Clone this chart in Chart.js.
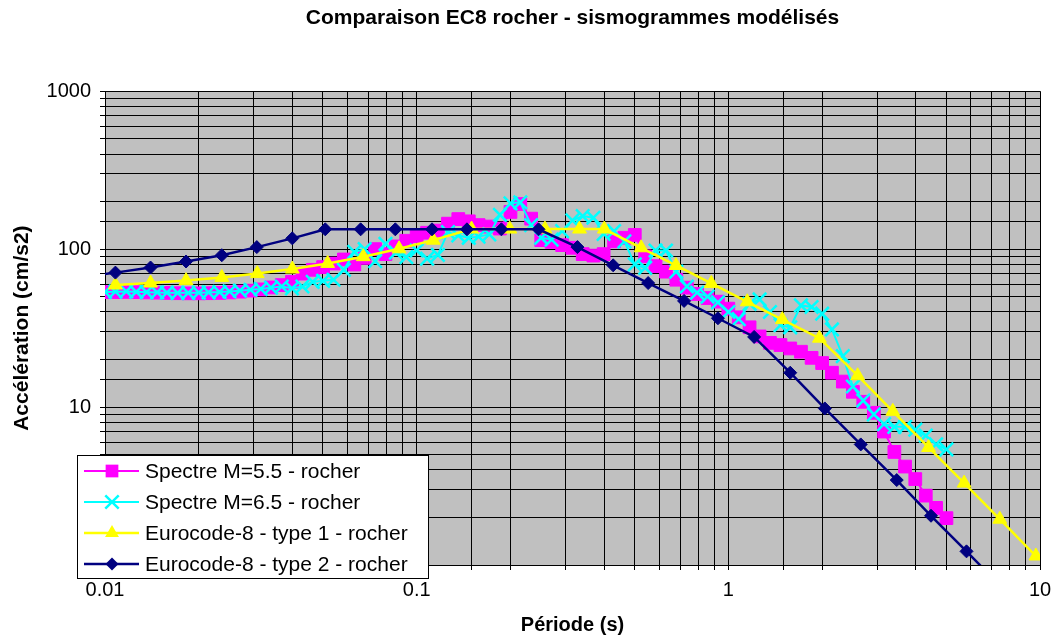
<!DOCTYPE html>
<html lang="fr">
<head>
<meta charset="utf-8">
<title>Comparaison EC8 rocher - sismogrammes modélisés</title>
<script src="https://cdn.jsdelivr.net/npm/chart.js@4.4.1/dist/chart.umd.min.js"></script>
<style>
  html, body { margin: 0; padding: 0; background: #fff; }
  canvas { display: block; }
</style>
</head>
<body>
<canvas id="graphique" width="1055" height="641"></canvas>
<script>
/* ---------- Données ---------- */
const titreGraphique = 'Comparaison EC8 rocher - sismogrammes modélisés';
const nomsSeries = [
  'Spectre M=5.5 - rocher',
  'Spectre M=6.5 - rocher',
  'Eurocode-8 - type 1 - rocher',
  'Eurocode-8 - type 2 - rocher'
];
const etiquettesX = ['0.01', '0.1', '1', '10'];
const etiquettesY = ['1', '10', '100', '1000'];

// périodes (s) des spectres modélisés
const periodesSpectres = [
  0.0100, 0.0108, 0.0117, 0.0126, 0.0136, 0.0147, 0.0158, 0.0171, 0.0185, 0.0200,
  0.0215, 0.0233, 0.0251, 0.0271, 0.0293, 0.0316, 0.0341, 0.0369, 0.0398, 0.0430,
  0.0464, 0.0501, 0.0541, 0.0584, 0.0631, 0.0681, 0.0736, 0.0794, 0.0858, 0.0926,
  0.100, 0.108, 0.117, 0.126, 0.136, 0.147, 0.158, 0.171, 0.185, 0.200,
  0.215, 0.233, 0.251, 0.271, 0.293, 0.316, 0.341, 0.369, 0.398, 0.430,
  0.464, 0.501, 0.541, 0.584, 0.631, 0.681, 0.736, 0.794, 0.858, 0.926,
  1.00, 1.08, 1.17, 1.26, 1.36, 1.47, 1.58, 1.71, 1.85, 2.00,
  2.15, 2.33, 2.51, 2.71, 2.93, 3.16, 3.41, 3.69, 3.98, 4.30,
  4.64, 5.01
];
const spectreM55 = [
  53.4, 53.5, 53.6, 53.4, 53.2, 53.0, 52.8, 52.6, 52.5, 52.5,
  52.6, 52.8, 53.2, 53.8, 54.6, 55.6, 57.2, 59.2, 62.1, 70,
  74, 77, 81, 86, 80, 88, 100, 93, 104, 113,
  121, 127, 131, 145, 155, 150, 142, 139, 135, 172,
  193, 156, 114, 111, 106, 102, 93, 91, 93, 112,
  118, 123, 90, 78, 72, 64, 57, 52, 49, 46.5,
  42, 37, 32, 28, 25.5, 24.7, 23.5, 22.4, 20.5, 19,
  16.5, 14.5, 12.5, 10.8, 9.2, 7, 5.2, 4.2, 3.5, 2.75,
  2.3, 1.98
];
const spectreM65 = [
  53.6, 53.8, 54, 53.7, 53.4, 53.2, 53, 52.9, 52.9, 53,
  53.2, 53.5, 54, 54.6, 55.3, 56, 57, 58, 56.5, 58,
  62, 63, 64, 74, 96, 100, 84, 108, 95, 89,
  98, 87, 92, 128, 122, 118, 120, 124, 165, 195,
  198, 142, 118, 115, 130, 152, 162, 158, 125, 130,
  112, 80, 76, 98, 98, 72, 58, 53, 50, 46,
  40, 36, 45, 48, 40, 33, 32, 44, 43, 39,
  31, 21, 13.5, 11, 9, 7.8, 7.5, 7.5, 7.2, 6.6,
  5.8, 5.4
];

// Eurocode 8 - type 1
const periodesEC8t1 = [
  0.0108, 0.0140, 0.0182, 0.0237, 0.0308, 0.0399, 0.0518, 0.0674, 0.0878, 0.113,
  0.150, 0.199, 0.258, 0.333, 0.400, 0.525, 0.679, 0.882, 1.15, 1.49,
  1.96, 2.60, 3.37, 4.39, 5.71, 7.43, 9.7
];
const ec8Type1 = [
  59.3, 61.0, 63.2, 66.2, 70.0, 74.8, 81.2, 89.6, 100.5, 114,
  134, 134, 134, 134, 134, 102, 78.8, 60.7, 46.4, 35.8,
  27.3, 15.8, 9.4, 5.55, 3.3, 1.95, 1.14
];

// Eurocode 8 - type 2
const periodesEC8t2 = [
  0.0083, 0.0108, 0.0140, 0.0182, 0.0237, 0.0307, 0.0399, 0.0509, 0.0661, 0.0854,
  0.112, 0.145, 0.187, 0.246, 0.328, 0.427, 0.553, 0.721, 0.926, 1.21,
  1.58, 2.04, 2.66, 3.47, 4.47, 5.81, 7.55
];
const ec8Type2 = [
  66.5, 71, 76.5, 83.5, 91.5, 103, 117, 133.5, 133.5, 133.5,
  133.5, 133.5, 133.5, 133.5, 103, 79, 61, 47, 36.5, 27.8,
  16.5, 9.8, 5.8, 3.45, 2.05, 1.22, 0.72
];

/* ---------- Styles ---------- */
const police = '"Liberation Sans", Arial, Helvetica, sans-serif';
const styles = [
  { couleur: '#FF00FF', marqueur: 'rect',     rayon: 9,   trait: 2 },
  { couleur: '#00FFFF', marqueur: 'crossRot', rayon: 9.5, trait: 2 },
  { couleur: '#FFFF00', marqueur: 'triangle', rayon: 8,   trait: 2.5 },
  { couleur: '#000080', marqueur: 'rectRot',  rayon: 6.5, trait: 2.5 }
];

function versPoints(periodes, valeurs) {
  return periodes.map((t, i) => ({ x: t, y: valeurs[i] }));
}

function etiquetteLog(valeur, etiquettes, decalage) {
  const e = Math.log10(valeur);
  const r = Math.round(e);
  if (Math.abs(e - r) < 1e-6) return etiquettes[r + decalage] || '';
  return '';
}

function jeu(index, points) {
  const s = styles[index];
  return {
    label: nomsSeries[index],
    data: points,
    borderColor: s.couleur,
    backgroundColor: s.couleur,
    borderWidth: s.trait,
    pointStyle: s.marqueur,
    pointRadius: s.rayon,
    pointBorderWidth: s.marqueur === 'crossRot' ? 2.5 : 1,
    pointBackgroundColor: s.couleur,
    pointBorderColor: s.couleur,
    tension: 0,
    fill: false,
    order: 4 - index
  };
}

/* ---------- Plugins ---------- */
const fondZone = {
  id: 'fondZone',
  beforeDraw(chart) {
    const { ctx, chartArea: a } = chart;
    ctx.save();
    ctx.fillStyle = '#C0C0C0';
    ctx.fillRect(a.left, a.top, a.right - a.left, a.bottom - a.top);
    ctx.restore();
  }
};

function dessinerMarqueur(ctx, style, x, y) {
  const r = style.rayon;
  ctx.save();
  ctx.fillStyle = style.couleur;
  ctx.strokeStyle = style.couleur;
  ctx.beginPath();
  if (style.marqueur === 'rect') {
    const c = r * Math.SQRT1_2;
    ctx.rect(x - c, y - c, 2 * c, 2 * c);
    ctx.fill();
  } else if (style.marqueur === 'crossRot') {
    const c = r * Math.SQRT1_2;
    ctx.lineWidth = 2.5;
    ctx.moveTo(x - c, y - c); ctx.lineTo(x + c, y + c);
    ctx.moveTo(x + c, y - c); ctx.lineTo(x - c, y + c);
    ctx.stroke();
  } else if (style.marqueur === 'triangle') {
    ctx.moveTo(x, y - r);
    ctx.lineTo(x + r * Math.sin(2 * Math.PI / 3), y + r / 2);
    ctx.lineTo(x - r * Math.sin(2 * Math.PI / 3), y + r / 2);
    ctx.closePath();
    ctx.fill();
  } else {
    ctx.moveTo(x, y - r); ctx.lineTo(x + r, y);
    ctx.lineTo(x, y + r); ctx.lineTo(x - r, y);
    ctx.closePath();
    ctx.fill();
  }
  ctx.restore();
}

const legende = {
  id: 'legendeExcel',
  afterDraw(chart) {
    const ctx = chart.ctx;
    const bx = 77, by = 455, bw = 351, bh = 123;
    ctx.save();
    ctx.fillStyle = '#fff';
    ctx.fillRect(bx, by, bw, bh);
    ctx.strokeStyle = '#000';
    ctx.lineWidth = 1;
    ctx.strokeRect(bx + 0.5, by + 0.5, bw, bh);
    ctx.font = '21px ' + police;
    ctx.textBaseline = 'middle';
    ctx.textAlign = 'left';
    nomsSeries.forEach((nom, i) => {
      const y = by + 16 + i * 31;
      const s = styles[i];
      ctx.strokeStyle = s.couleur;
      ctx.lineWidth = s.trait;
      ctx.beginPath();
      ctx.moveTo(84, y);
      ctx.lineTo(139, y);
      ctx.stroke();
      dessinerMarqueur(ctx, s, 112, y);
      ctx.fillStyle = '#000';
      ctx.fillText(nom, 145, y + 1);
    });
    ctx.restore();
  }
};

/* ---------- Graphique ---------- */
Chart.defaults.font.family = police;
Chart.defaults.color = '#000';

const grille = { color: '#000', lineWidth: 1, drawTicks: true, tickLength: 5, tickColor: '#000' };

new Chart(document.getElementById('graphique').getContext('2d'), {
  type: 'line',
  data: {
    datasets: [
      jeu(0, versPoints(periodesSpectres, spectreM55)),
      jeu(1, versPoints(periodesSpectres, spectreM65)),
      jeu(2, versPoints(periodesEC8t1, ec8Type1)),
      jeu(3, versPoints(periodesEC8t2, ec8Type2))
    ]
  },
  options: {
    responsive: false,
    animation: false,
    events: [],
    layout: { padding: { top: 0, left: 0, right: 15, bottom: 0 } },
    plugins: {
      legend: { display: false },
      tooltip: { enabled: false },
      title: {
        display: true,
        text: titreGraphique,
        fullSize: false,
        color: '#000',
        font: { size: 21, weight: 'bold' },
        padding: { top: 6, bottom: 60 }
      }
    },
    scales: {
      x: {
        type: 'logarithmic',
        min: 0.01,
        max: 10,
        afterFit: (s) => { s.height = 76; s.paddingLeft = 0; s.paddingRight = 0; },
        grid: grille,
        border: { color: '#000', width: 1 },
        ticks: {
          autoSkip: false,
          maxRotation: 0,
          padding: 8,
          font: { size: 20 },
          callback: (v) => etiquetteLog(v, etiquettesX, 2)
        },
        title: {
          display: true,
          text: 'Période (s)',
          font: { size: 20, weight: 'bold' },
          padding: { top: 0, bottom: 4 }
        }
      },
      y: {
        type: 'logarithmic',
        min: 1,
        max: 1000,
        afterFit: (s) => { s.width = 105; },
        grid: grille,
        border: { color: '#000', width: 1 },
        ticks: {
          autoSkip: false,
          padding: 9,
          font: { size: 20 },
          callback: (v) => etiquetteLog(v, etiquettesY, 0)
        },
        title: {
          display: true,
          text: 'Accélération (cm/s2)',
          font: { size: 21, weight: 'bold' },
          padding: { top: 10, bottom: 0 }
        }
      }
    }
  },
  plugins: [fondZone, legende]
});
</script>
</body>
</html>
